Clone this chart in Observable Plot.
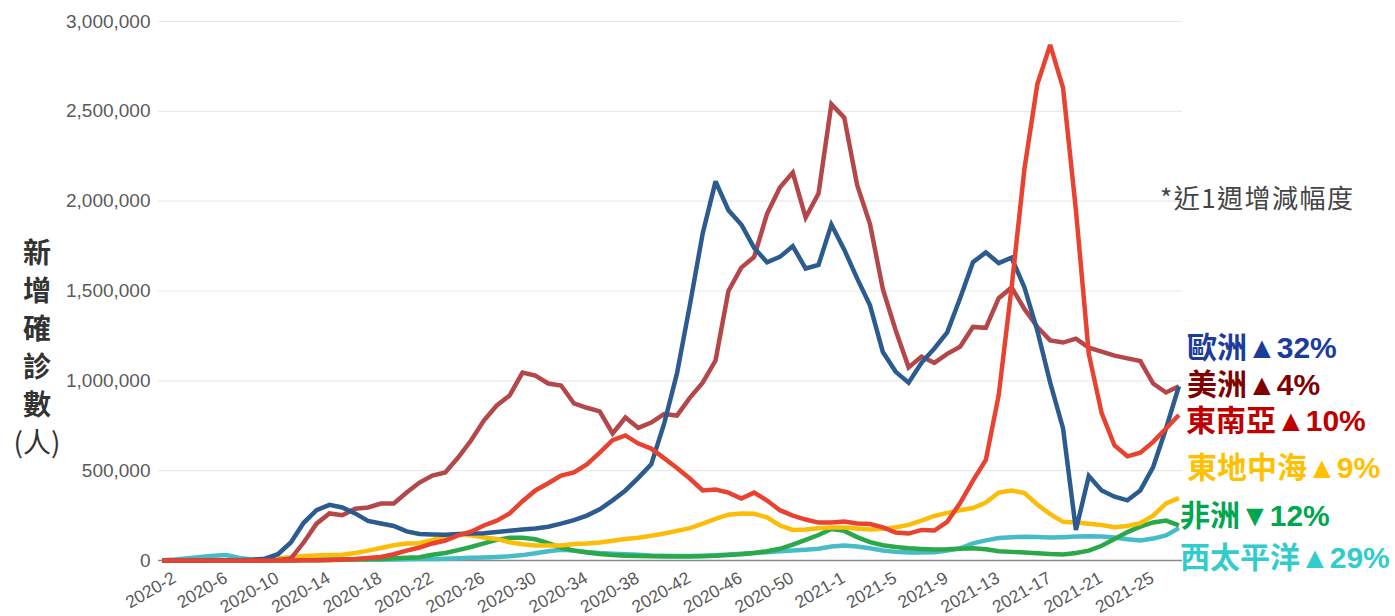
<!DOCTYPE html>
<html>
<head>
<meta charset="utf-8">
<script src="https://cdn.jsdelivr.net/npm/d3@7"></script>
<script src="https://cdn.jsdelivr.net/npm/@observablehq/plot@0.6"></script>
<style>
  html, body { margin: 0; padding: 0; background: #fff; }
  #wrap { position: relative; width: 1395px; height: 616px; overflow: hidden; font-family: "Liberation Sans", Arial, "Noto Sans CJK TC", sans-serif; }
  #chart { position: absolute; left: 0; top: 0; }
  .ylab { position: absolute; left: 8px; top: 232px; width: 58px; text-align: center; font-family: "Noto Sans CJK TC", sans-serif; font-weight: 700; font-size: 28px; line-height: 38px; color: #333; }
  .ylab .p { font-weight: 400; }
  .note { position: absolute; left: 1160px; top: 180px; font-family: "Noto Sans CJK TC", sans-serif; font-size: 26px; line-height: 34px; color: #444; letter-spacing: 1.5px; white-space: nowrap; }
  .lg { position: absolute; font-family: "Liberation Sans", "Noto Sans CJK TC", sans-serif; font-weight: 700; font-size: 30px; line-height: 30px; white-space: nowrap; }
</style>
</head>
<body>
<div id="wrap">
  <div id="chart"></div>
  <div class="ylab">新<br>增<br>確<br>診<br>數<br><span class="p">(人)</span></div>
  <div class="note">*近1週增減幅度</div>
</div>
<script>
// Weekly categories: 2020-2 ... 2020-53, 2021-1 ... 2021-28
const weeks = [
  ...d3.range(2, 54).map(w => `2020-${w}`),
  ...d3.range(1, 29).map(w => `2021-${w}`)
];
const tickLabels = ["2020-2","2020-6","2020-10","2020-14","2020-18","2020-22","2020-26","2020-30","2020-34","2020-38","2020-42","2020-46","2020-50","2021-1","2021-5","2021-9","2021-13","2021-17","2021-21","2021-25"];
const yTicks = [0, 500000, 1000000, 1500000, 2000000, 2500000, 3000000];

// Weekly new confirmed cases, in thousands
const europe = [0,0,0,0,1,1,2,4,10,35,100,210,280,310,295,262,220,206,192,162,148,145,143,148,150,152,158,165,172,178,188,205,225,250,285,335,390,460,535,760,1040,1420,1820,2110,1950,1870,1740,1660,1690,1750,1625,1645,1870,1730,1570,1420,1160,1050,990,1100,1180,1270,1460,1660,1715,1655,1685,1520,1280,990,735,170,470,390,355,335,390,520,735,970];
const americas = [0,0,0,0,0,0,0,0,1,3,10,100,205,262,252,288,295,317,317,378,434,473,490,573,668,779,863,918,1046,1029,985,974,874,850,830,707,796,738,768,815,807,905,990,1113,1500,1630,1690,1930,2076,2159,1909,2042,2540,2465,2090,1872,1510,1280,1075,1135,1100,1150,1190,1300,1295,1460,1520,1400,1300,1225,1213,1235,1185,1163,1140,1125,1110,985,935,970];
const seAsia = [0,0,0,0,0,0,0,0,0,0,0,1,2,3,5,8,14,20,35,55,72,95,111,140,160,195,222,262,330,390,430,473,490,535,600,670,696,651,623,570,515,456,390,395,378,345,378,334,280,250,228,211,211,217,206,203,184,156,150,170,167,215,320,445,560,920,1520,2180,2650,2870,2630,1950,1150,820,640,580,600,660,735,810];
const eastMed = [0,0,0,0,0,0,1,3,8,12,18,25,28,30,32,42,55,70,85,95,96,115,135,145,140,128,120,102,90,84,83,84,92,95,100,110,120,127,138,150,165,180,205,232,255,262,260,240,195,170,172,180,184,184,178,172,176,185,198,222,248,265,280,292,322,378,390,375,312,258,215,212,205,198,185,192,208,250,318,347];
const africa = [0,0,0,0,0,0,0,0,0,0,0,1,2,3,4,5,7,9,12,15,18,32,42,58,75,95,115,127,126,118,97,72,55,45,36,30,27,25,23,22,22,22,24,27,30,35,42,52,65,88,115,142,175,165,130,102,85,75,68,64,61,62,66,68,62,52,48,45,40,36,34,42,55,82,120,158,188,212,222,195];
const westPac = [2,5,12,20,26,30,14,6,5,6,7,8,9,9,8,7,6,6,6,7,8,9,10,12,15,17,20,24,30,40,52,60,56,48,42,38,35,32,28,26,25,25,27,29,33,38,42,46,52,56,60,66,78,83,78,68,56,48,45,44,46,55,68,95,112,125,130,132,131,128,130,133,135,134,128,118,112,122,140,180];

// Draw order (bottom to top)
const regionNames = ["西太平洋", "非洲", "東地中海", "美洲", "歐洲", "東南亞"];
const regionSeries = [westPac, africa, eastMed, americas, europe, seAsia];
const lineColors = ["#46bdc6", "#2aa84a", "#fbbd08", "#b4474a", "#2b5b8f", "#e84330"];

// Legend (annotation) text
const legendNames = ["歐洲", "美洲", "東南亞", "東地中海", "非洲", "西太平洋"];
const legendChanges = ["▲32%", "▲4%", "▲10%", "▲9%", "▼12%", "▲29%"];
const legendColors = ["#1c3c9c", "#800000", "#c00000", "#ffc000", "#00a650", "#33cccc"];
const legendLayout = [[1187, 348], [1187, 385], [1186, 421], [1187, 468], [1180, 516], [1180, 558]];

const data = regionNames.flatMap((region, r) =>
  regionSeries[r].map((v, i) => ({ region, week: weeks[i], value: v * 1000 }))
);

const chart = Plot.plot({
  width: 1395,
  height: 616,
  marginLeft: 158,
  marginRight: 213,
  marginTop: 21,
  marginBottom: 56,
  style: { fontFamily: "Liberation Sans, Arial, sans-serif", fontSize: "19px", color: "#5a5a5a", background: "#fff" },
  x: { type: "point", domain: weeks, padding: 0.28, axis: null },
  y: { domain: [0, 3000000], ticks: yTicks, tickFormat: d3.format(","), tickSize: 0, tickPadding: 8, label: null },
  color: { domain: regionNames, range: lineColors },
  marks: [
    Plot.ruleY(yTicks.filter(d => d > 0), { stroke: "#e9e9e9", strokeWidth: 1.2 }),
    Plot.ruleY([0], { stroke: "#8a8a8a", strokeWidth: 1.5 }),
    Plot.line(data, { x: "week", y: "value", z: "region", stroke: "region", strokeWidth: 4.5, strokeLinejoin: "miter", strokeMiterlimit: 3, strokeLinecap: "butt" }),
    Plot.text(tickLabels, { x: d => d, frameAnchor: "bottom", textAnchor: "end", rotate: -30, dx: 15, dy: 21, fontSize: 17.5, fill: "#5a5a5a" })
  ]
});
document.getElementById("chart").appendChild(chart);

const wrap = document.getElementById("wrap");
legendNames.forEach((name, k) => {
  const d = document.createElement("div");
  d.className = "lg";
  d.style.color = legendColors[k];
  d.style.left = legendLayout[k][0] + "px";
  d.style.top = (legendLayout[k][1] - 15) + "px";
  d.textContent = name + legendChanges[k];
  wrap.appendChild(d);
});
</script>
</body>
</html>
